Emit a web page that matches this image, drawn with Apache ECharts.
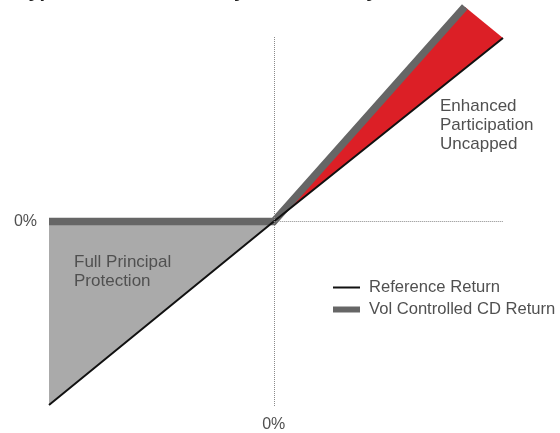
<!DOCTYPE html>
<html>
<head>
<meta charset="utf-8">
<script src="https://cdn.jsdelivr.net/npm/echarts@6/dist/echarts.min.js"></script>
<style>html,body{margin:0;padding:0;background:#fff;}#chart{width:560px;height:433px;}</style>
</head>
<body>
<div id="chart"></div>
<script>
// ---- data ----
const titleText = 'Hypothetical Return Payoff at Maturity';
const xTickValues = [0];
const yTickValues = [0];
const tickLabel = '0%';
const refName = 'Reference Return';
const volName = 'Vol Controlled CD Return';
const refX = [-100, 0, 102];
const refY = [-100, 0, 100];
const volX = [-100, 0, 85];
const volY = [0, 0, 117];
const protectionX = [-100, 0];
const protectionY = [-100, 0];
const enhancedX = [0, 85, 102];
const enhancedY = [0, 117, 100];
const protectionText = 'Full Principal\nProtection';
const enhancedText = 'Enhanced\nParticipation\nUncapped';

const zip = (xs, ys) => xs.map((x, i) => [x, ys[i]]);
const FONT = '"Liberation Sans", Arial, sans-serif';
const TXT = '#505050';

const chart = echarts.init(document.getElementById('chart'), null, {renderer: 'canvas'});
chart.setOption({
  animation: false,
  backgroundColor: '#fff',
  grid: {left: 49, right: 57, top: 37, bottom: 27, containLabel: false, outerBoundsMode: 'none'},
  xAxis: {
    type: 'value', min: -100, max: 102,
    axisLine: {show: false}, splitLine: {show: false},
    axisTick: {show: false},
    axisLabel: {customValues: xTickValues, formatter: () => tickLabel, margin: 11,
      color: TXT, fontSize: 16, fontFamily: FONT}
  },
  yAxis: {
    type: 'value', min: -100.5, max: 100.5,
    axisLine: {show: false, onZero: false}, splitLine: {show: false},
    axisTick: {show: false},
    axisLabel: {customValues: yTickValues, formatter: () => tickLabel, margin: 12,
      padding: [4, 0, 0, 0],
      color: TXT, fontSize: 16, fontFamily: FONT}
  },
  legend: {
    orient: 'vertical', left: 328, top: 274,
    itemWidth: 27, itemHeight: 6, itemGap: 5,
    textStyle: {color: TXT, fontSize: 16.6, fontFamily: FONT, padding: [0, 0, 0, 4]},
    data: [
      {name: refName, icon: 'path://M0,0L0.01,0M0,2H27V4H0ZM27,6L26.99,6'},
      {name: volName, icon: 'rect'}
    ]
  },
  graphic: [
    {type: 'text', x: 14, y: -9, silent: true, z: 100,
      style: {text: titleText, font: 'bold 20px ' + FONT, fill: '#222', verticalAlign: 'middle', textVerticalAlign: 'middle'}},
    {type: 'text', left: 440, top: 97, silent: true, z: 100,
      style: {text: enhancedText, font: '17px ' + FONT, fill: TXT, lineHeight: 19}},
    {type: 'text', left: 74, top: 253, silent: true, z: 100,
      style: {text: protectionText, font: '17px ' + FONT, fill: TXT, lineHeight: 19}}
  ],
  series: [
    {
      name: 'Protection', type: 'line', data: zip(protectionX, protectionY),
      symbol: 'none', clip: false, silent: true,
      lineStyle: {width: 0, color: '#aaaaaa'},
      areaStyle: {color: '#aaaaaa', opacity: 1, origin: 'auto'},
      z: 1
    },
    {
      name: 'Enhanced', type: 'custom', clip: false, silent: true,
      data: zip(enhancedX, enhancedY),
      renderItem: function (params, api) {
        if (params.dataIndex !== 0) return;
        const pts = zip(enhancedX, enhancedY).map(p => api.coord(p));
        return {type: 'polygon', shape: {points: pts}, style: {fill: '#dc1f26'}};
      },
      z: 2
    },
    {
      name: volName, type: 'line', data: zip(volX, volY),
      symbol: 'none', clip: false, silent: true,
      color: '#666666',
      lineStyle: {width: 7.5, color: '#666666', cap: 'butt', join: 'miter'},
      z: 3
    },
    {
      name: refName, type: 'line', data: zip(refX, refY),
      symbol: 'none', clip: false, silent: true,
      color: '#111111',
      lineStyle: {width: 2, color: '#111111'},
      markLine: {
        silent: true, symbol: 'none', animation: false,
        label: {show: false},
        lineStyle: {type: 'dotted', color: '#8a8a8a', width: 1},
        data: [
          {xAxis: 0},
          [{coord: [0, 0]}, {coord: [102, 0]}]
        ]
      },
      z: 4
    }
  ]
});
</script>
</body>
</html>
